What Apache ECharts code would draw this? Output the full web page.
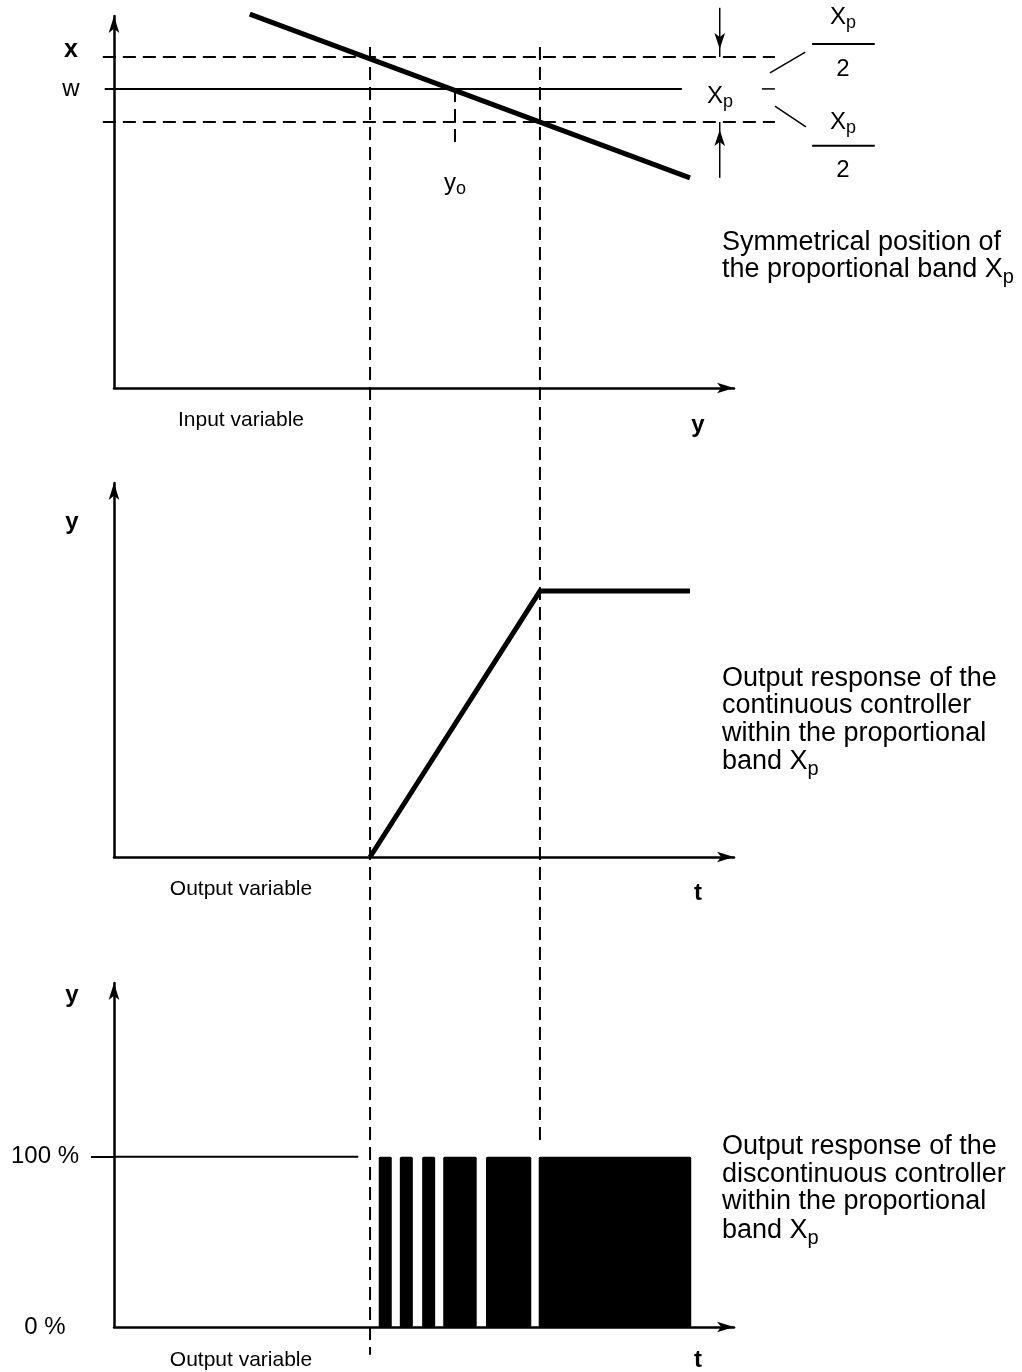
<!DOCTYPE html>
<html>
<head>
<meta charset="utf-8">
<script src="https://cdn.jsdelivr.net/npm/echarts@6/dist/echarts.min.js"></script>
<style>
html,body{margin:0;padding:0;background:#fff;}
#main{width:1022px;height:1372px;}
</style>
</head>
<body>
<div id="main"></div>
<script>
// 数据 ----
// top panel (input variable y -> x), units 0..100 on both axes
var characteristic = [[21.9, 100.5], [92.9, 56.5]];   // falling line
var setpointW = 80.4;        // w
var bandUpper = 89.0;        // w + Xp/2  (label "x")
var bandLower = 71.5;        // w - Xp/2
var yZero = 55.0;            // y_o
var switchOn = 41.3;         // band start
var switchFull = 68.7;       // band end
// middle panel: continuous controller
var contOutput = [[41.3, 0], [68.7, 71.1], [92.9, 71.1]];
// bottom panel: discontinuous controller pulses [start, end, level]
var pulses = [[42.7, 44.8, 100], [46.1, 48.2, 100], [49.7, 51.8, 100], [53.1, 58.5, 100], [60.0, 67.3, 100], [68.5, 93.1, 100]];
var offLevel = [[0, 100], [39.4, 100]];
var pctValues = [0, 100];
var pctTicks = ['0 %', '100 %'];
var topTicks = ['x', 'w'];
// guides, drawn in top-panel units
var guideTop = 91.7;
var guideOnEnd = -259.9, guideFullEnd = -203.5;
var bandLeft = -1.8, bandRight = 106.6, wLeft = -1.5, wRight = 91.6;
var yZeroEnd = 64.5;
var arrowX = 97.7, arrowTop = 102.2, arrowBottom = 56.5;
// Xp/2 annotation (top-panel units)
var xpDash = [[104.5, 80.4], [106.6, 80.4]];
var leaderUp = [[105.8, 84.7], [111.5, 90.3]];
var leaderDown = [[106.6, 75.8], [111.6, 70.2]];
var fracBarUp = [[112.6, 92.5], [122.7, 92.5]];
var fracBarDown = [[112.6, 65.1], [122.7, 65.1]];

var FONT = '"Liberation Sans", Arial, Helvetica, sans-serif';
var W = 1022, H = 1372;
// panel geometry
var PL = 114, PW = 620;
var top0 = 16, h0 = 372;
var myChart = echarts.init(document.getElementById('main'), null, {renderer: 'canvas'});

function axisX(gi) {
    return {
        type: 'value', gridIndex: gi, min: 0, max: 100,
        axisLine: {show: true, onZero: false, symbol: ['none', 'arrow'], symbolSize: [8, 17], lineStyle: {color: '#000', width: 2.5}},
        axisTick: {show: false}, axisLabel: {show: false}, splitLine: {show: false}
    };
}
function axisY(gi, max) {
    return {
        type: 'value', gridIndex: gi, min: 0, max: max,
        axisLine: {show: true, onZero: false, symbol: ['none', 'arrow'], symbolSize: [8, 17], lineStyle: {color: '#000', width: 2.5}},
        axisTick: {show: false}, axisLabel: {show: false}, splitLine: {show: false}
    };
}
function seg(data, gi, style, extra) {
    var s = {
        type: 'line', xAxisIndex: gi, yAxisIndex: gi, data: data,
        symbol: 'none', silent: true, animation: false,
        lineStyle: Object.assign({color: '#000', width: 2}, style || {})
    };
    return Object.assign(s, extra || {});
}
// text helper, '_' starts a subscript
function txt(x, y, str, size, opt) {
    opt = opt || {};
    var parts = str.split('_');
    var rich = {
        n: {fontSize: size, fontFamily: FONT, fontWeight: opt.bold ? 'bold' : 'normal', lineHeight: size + 4, fill: '#000'},
        s: {fontSize: Math.round(size * 0.74), fontFamily: FONT, lineHeight: size + 4, padding: [Math.round(size * 0.5), 0, 0, 0], fill: '#000'}
    };
    var t = '{n|' + parts[0] + '}' + (parts[1] ? '{s|' + parts[1] + '}' : '');
    return {
        type: 'text', x: x, y: y, silent: true,
        style: {text: t, rich: rich, textAlign: opt.align || 'center', textVerticalAlign: 'middle', fill: '#000'}
    };
}

var yTop = axisY(0, 100);
yTop.axisLabel = {
    show: true, customValues: [bandUpper, setpointW], align: 'center', margin: 43,
    fontSize: 24, fontFamily: FONT, color: '#000',
    formatter: function (v) { return v === bandUpper ? '{b|' + topTicks[0] + '}' : '{n|' + topTicks[1] + '}'; },
    rich: {
        b: {fontSize: 25, fontWeight: 'bold', fontFamily: FONT, color: '#000', padding: [0, 0, 14, 0]},
        n: {fontSize: 24, fontFamily: FONT, color: '#000', padding: [0, 0, 0, 0]}
    }
};
var yBottom = axisY(2, 202);
yBottom.axisTick = {show: true, customValues: [100], length: 23, lineStyle: {color: '#000', width: 2}};
yBottom.axisLabel = {
    show: true, customValues: pctValues, color: '#000', fontSize: 24, fontFamily: FONT, align: 'center', margin: 69,
    formatter: function (v) { return pctTicks[pctValues.indexOf(v)]; }
};
// overlay grid on the whole page, same scale as the top panel
var ox = {
    type: 'value', gridIndex: 3, show: false,
    min: (0 - PL) / PW * 100, max: (W - PL) / PW * 100
};
var oy = {
    type: 'value', gridIndex: 3, show: false,
    min: -(H - top0 - h0) / h0 * 100, max: (top0 + h0) / h0 * 100
};

var option = {
    backgroundColor: '#fff',
    animation: false,
    grid: [
        {left: PL, top: top0, width: PW, height: h0},
        {left: PL, top: 483, width: PW, height: 374},
        {left: PL, top: 983, width: PW, height: 344},
        {left: 0, top: 0, width: W, height: H}
    ],
    xAxis: [axisX(0), axisX(1), axisX(2), ox],
    yAxis: [yTop, axisY(1, 100), yBottom, oy],
    series: [
        // band lines
        seg([[bandLeft, bandUpper], [bandRight, bandUpper]], 3, {type: [13, 7]}),
        seg([[bandLeft, bandLower], [bandRight, bandLower]], 3, {type: [13, 7]}),
        seg([[wLeft, setpointW], [wRight, setpointW]], 3, {}),
        seg([[yZero, setpointW], [yZero, yZeroEnd]], 3, {type: [13, 7]}),
        // vertical guides through all panels
        seg([[switchOn, guideTop], [switchOn, guideOnEnd]], 3, {type: [13, 7]}),
        seg([[switchFull, guideTop], [switchFull, guideFullEnd]], 3, {type: [13, 7]}),
        // characteristic
        seg(characteristic, 3, {width: 5}),
        // Xp arrows
        seg([{value: [arrowX, arrowTop], symbol: 'none'},
             {value: [arrowX, bandUpper], symbol: 'arrow', symbolSize: [8, 16], symbolRotate: 180, symbolOffset: [0, -8]}],
            3, {width: 1.5}, {symbol: 'arrow', showSymbol: true, itemStyle: {color: '#000'}}),
        seg([{value: [arrowX, arrowBottom], symbol: 'none'},
             {value: [arrowX, bandLower], symbol: 'arrow', symbolSize: [8, 16], symbolOffset: [0, 8]}],
            3, {width: 1.5}, {symbol: 'arrow', showSymbol: true, itemStyle: {color: '#000'}}),
        seg(xpDash, 3, {width: 1.5}),
        seg(leaderUp, 3, {width: 1.5}),
        seg(leaderDown, 3, {width: 1.5}),
        seg(fracBarUp, 3, {width: 2}),
        seg(fracBarDown, 3, {width: 2}),
        // middle panel
        seg(contOutput, 1, {width: 5, join: 'miter'}),
        // bottom panel
        seg(offLevel, 2, {width: 2}),
        {
            type: 'custom', xAxisIndex: 2, yAxisIndex: 2, silent: true,
            encode: {x: [0, 1], y: 2},
            renderItem: function (params, api) {
                var p0 = api.coord([api.value(0), api.value(2)]);
                var p1 = api.coord([api.value(1), 0]);
                return {type: 'rect', shape: {x: p0[0], y: p0[1], width: p1[0] - p0[0], height: p1[1] - p0[1], r: 1.5}, style: {fill: '#000'}};
            },
            data: pulses
        }
    ],
    graphic: [
        txt(455, 183, 'y_o', 24),
        txt(720, 96, 'X_p', 24),
        txt(843, 17, 'X_p', 24),
        txt(843, 69, '2', 24),
        txt(843, 122, 'X_p', 24),
        txt(843, 170, '2', 24),
        txt(722, 243, 'Symmetrical position of', 27, {align: 'left'}),
        txt(722, 270, 'the proportional band X_p', 27, {align: 'left'}),
        txt(241, 420, 'Input variable', 21),
        txt(698, 425, 'y', 24, {bold: true}),
        txt(72, 522, 'y', 24, {bold: true}),
        txt(722, 679, 'Output response of the', 27, {align: 'left'}),
        txt(722, 706, 'continuous controller', 27, {align: 'left'}),
        txt(722, 734, 'within the proportional', 27, {align: 'left'}),
        txt(722, 762, 'band X_p', 27, {align: 'left'}),
        txt(241, 889, 'Output variable', 21),
        txt(698, 893, 't', 24, {bold: true}),
        txt(72, 995, 'y', 24, {bold: true}),
        txt(722, 1147, 'Output response of the', 27, {align: 'left'}),
        txt(722, 1175, 'discontinuous controller', 27, {align: 'left'}),
        txt(722, 1202, 'within the proportional', 27, {align: 'left'}),
        txt(722, 1231, 'band X_p', 27, {align: 'left'}),
        txt(241, 1360, 'Output variable', 21),
        txt(698, 1360, 't', 24, {bold: true})
    ]
};

myChart.setOption(option);
window.addEventListener('resize', function () { myChart.resize(); });
</script>
</body>
</html>
